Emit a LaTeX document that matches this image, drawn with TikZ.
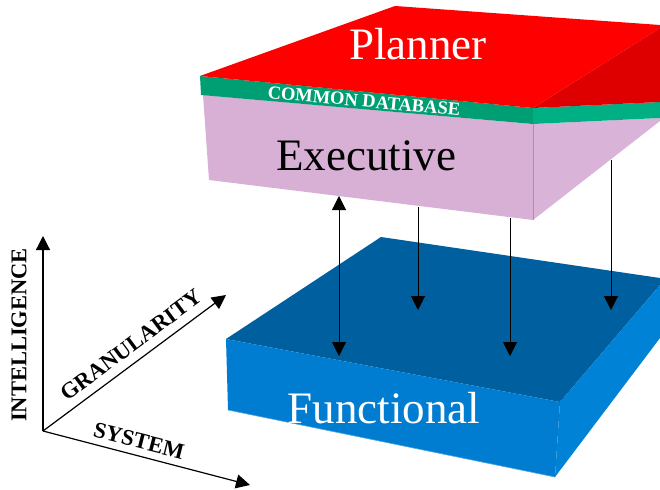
\documentclass[tikz,border=0pt]{standalone}
\usepackage{fontspec}
\setmainfont{Liberation Serif}
\usetikzlibrary{arrows.meta}
\definecolor{plred}{RGB}{255,0,0}
\definecolor{plredside}{RGB}{222,0,0}
\definecolor{dbgreen}{RGB}{0,158,115}
\definecolor{dbgreenside}{RGB}{0,176,132}
\definecolor{exlav}{RGB}{216,176,214}
\definecolor{exlavside}{RGB}{218,180,216}
\definecolor{futop}{RGB}{0,95,158}
\definecolor{fufront}{RGB}{0,125,208}
\definecolor{fuside}{RGB}{0,130,214}
\tikzset{
  conn/.style={line width=1pt,-{Triangle[length=14pt,width=14pt]}},
  dconn/.style={line width=1pt,{Triangle[length=14pt,width=14pt]}-{Triangle[length=14pt,width=14pt]}},
  axis/.style={line width=1.2pt,-{Triangle[length=14pt,width=14pt]}},
  bigtext/.style={font=\fontsize{45}{50}\selectfont, inner sep=0pt},
  axlabel/.style={font=\fontsize{22.5}{24}\selectfont\bfseries, inner sep=0pt},
}
\begin{document}
\begin{tikzpicture}[x=1pt,y=-1pt]
\useasboundingbox (0,0) rectangle (660,489);
% ---------- Functional slab ----------
\fill[futop] (226,339) -- (381,237) -- (660,278) -- (660,285) -- (560,402) -- cycle;
\fill[fufront] (226,339) -- (560,402) -- (555,477) -- (228,410) -- cycle;
\fill[fuside] (560,402) -- (660,285) -- (660,338) -- (555,477) -- cycle;
\draw[line width=0.6pt,color=fuside!70!white] (228,410) -- (555,477);
\node[bigtext,white,anchor=base] (func) at (384,423) {Functional};
% ---------- Executive slab ----------
\fill[exlav] (203,95) -- (533,124) -- (533,220) -- (209,180) -- cycle;
\fill[exlavside] (533,124) -- (660,118) -- (660,121) -- (533,220) -- cycle;
\draw[line width=0.4pt,color=exlav!80!black] (533,124) -- (533,220);
\node[bigtext,black,anchor=base] (exec) at (366,171) {Executive};
% ---------- Common database band ----------
\fill[dbgreen] (200,76) -- (533,108) -- (533,124) -- (201,95) -- cycle;
\fill[dbgreenside] (533,108) -- (660,102) -- (660,118) -- (533,124) -- cycle;
\node[font=\fontsize{18.5}{19}\selectfont\bfseries, white, inner sep=0pt, rotate=-5.3] (db) at (364,101) {COMMON DATABASE};
% ---------- Planner ----------
\fill[plred] (395,6) -- (660,25) -- (660,28) -- (533,108) -- (200,76) -- cycle;
\fill[plredside] (533,108) -- (660,28) -- (660,102) -- cycle;
\node[bigtext,white,anchor=base] (plan) at (418,60) {Planner};
% ---------- connectors ----------
\coordinate (a1s) at (339,196);
\coordinate (a1e) at (339,356);
\coordinate (a2s) at (418,207);
\coordinate (a2e) at (418,310);
\coordinate (a3s) at (510,218);
\coordinate (a3e) at (510,356);
\coordinate (a4s) at (611,160);
\coordinate (a4e) at (611,310);
\draw[dconn] (a1s) -- (a1e);
\draw[conn] (a2s) -- (a2e);
\draw[conn] (a3s) -- (a3e);
\draw[conn] (a4s) -- (a4e);
% ---------- axes ----------
\coordinate (o) at (43,431);
\coordinate (ti) at (43,236);
\coordinate (tg) at (226,295);
\coordinate (ts) at (250,485);
\draw[axis] (o) -- (ti);
\draw[axis] (o) -- (tg);
\draw[axis] (o) -- (ts);
\node[axlabel,rotate=90] (lint) at (19,335) {INTELLIGENCE};
\node[axlabel,rotate=36.6] (lgran) at (131,345) {GRANULARITY};
\node[axlabel,rotate=-14.2] (lsys) at (139,441) {SYSTEM};
\end{tikzpicture}
\end{document}
